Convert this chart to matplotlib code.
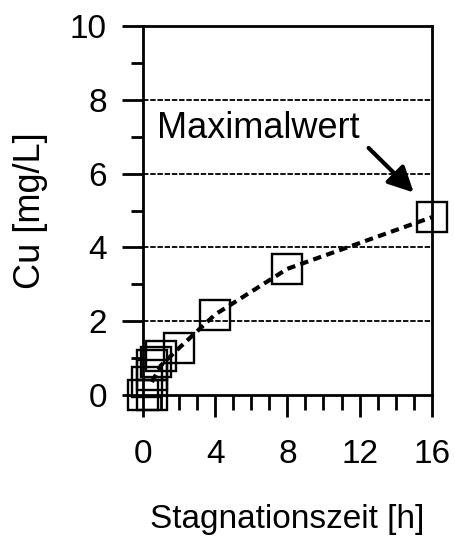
import matplotlib
matplotlib.use("Agg")
import matplotlib.pyplot as plt
from matplotlib.ticker import MultipleLocator

plt.rcParams["font.family"] = ["Liberation Sans", "DejaVu Sans"]

# Stagnation time [h] and copper concentration [mg/L]
zeit = [0, 0.5, 0.25, 0.5, 0.5, 0.75, 1, 2, 4, 8, 16]
cu = [0, 0, 0.35, 0.55, 0.8, 0.9, 1.05, 1.27, 2.18, 3.42, 4.82]
# points joined by the dashed trend line
linie_x = [0.5, 1, 2, 4, 8, 16]
linie_y = [0.35, 0.8, 1.27, 2.18, 3.42, 4.82]

fig = plt.figure(figsize=(4.55, 5.47), dpi=100)
ax = fig.add_axes([0.314, 0.278, 0.635, 0.674])

ax.plot(linie_x, linie_y, color="black", lw=3, ls=(0, (2.0, 1.3)), zorder=3)
ax.plot(zeit, cu, ls="none", marker="s", ms=22, mfc="none", mec="black",
        mew=1.7, clip_on=False, zorder=4)

ax.set_xlim(0, 16)
ax.set_ylim(0, 10)
ax.xaxis.set_major_locator(MultipleLocator(4))
ax.xaxis.set_minor_locator(MultipleLocator(1))
ax.yaxis.set_major_locator(MultipleLocator(2))
ax.yaxis.set_minor_locator(MultipleLocator(1))
ax.tick_params(axis="both", which="major", direction="out", width=2, labelsize=24)
ax.tick_params(axis="y", which="major", length=15, pad=11)
ax.tick_params(axis="y", which="minor", length=9, width=2)
ax.tick_params(axis="x", which="major", length=16, pad=16)
ax.tick_params(axis="x", which="minor", length=11, width=2)
for s in ax.spines.values():
    s.set_linewidth(2)

for yv in [2, 4, 6, 8]:
    ax.axhline(yv, color="black", lw=1.3, ls=(0, (3, 1)), zorder=1)

ax.set_xlabel("Stagnationszeit [h]", fontsize=24, labelpad=24)
ax.set_ylabel("Cu [mg/L]", fontsize=26, labelpad=16)

ax.text(0.78, 7.24, "Maximalwert", fontsize=26, va="center", ha="left")
ax.annotate("", xy=(15.0, 5.49), xytext=(12.5, 6.7),
            arrowprops=dict(arrowstyle="-|>,head_length=0.7,head_width=0.35",
                            color="black", lw=3, mutation_scale=22,
                            shrinkA=0, shrinkB=0))

fig.savefig("out.png", dpi=100)
